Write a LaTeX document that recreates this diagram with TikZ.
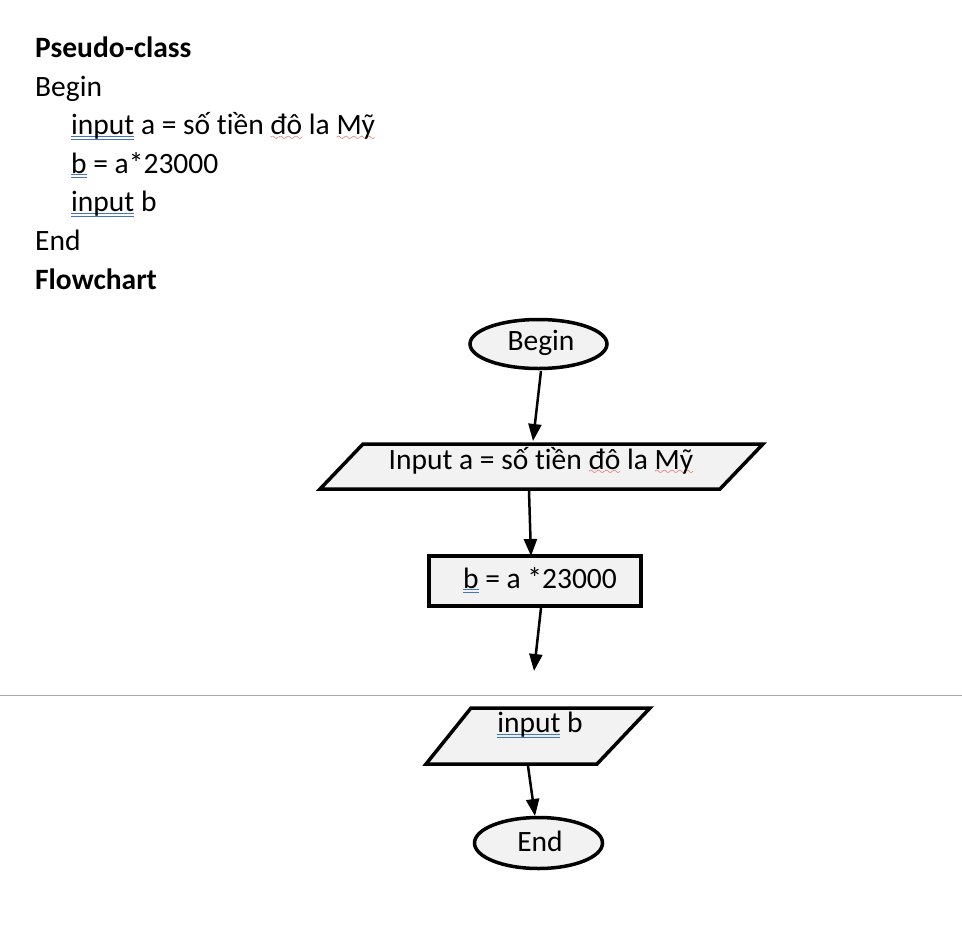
\documentclass[tikz,border=0pt]{standalone}
\usepackage{fontspec}
\setmainfont{Carlito}[Ligatures=NoCommon]
\usetikzlibrary{arrows.meta,shapes.geometric}
\definecolor{ublue}{HTML}{4472C4}
\definecolor{shapefill}{HTML}{F2F2F2}
\definecolor{pagegray}{HTML}{A6A6A6}
\definecolor{wavered}{HTML}{E02020}
\font\mywavefont=lasy10 at 11pt
\newsavebox\myulbox
\newcommand\dblu[1]{\sbox\myulbox{#1}\rlap{\textcolor{ublue}{\rule[-1.9pt]{\wd\myulbox}{0.9pt}}}\rlap{\textcolor{ublue}{\rule[-5.0pt]{\wd\myulbox}{0.9pt}}}\usebox\myulbox}
\newcommand\wavu[1]{\sbox\myulbox{#1}\rlap{\textcolor{wavered}{\lower5.5pt\hbox to \wd\myulbox{\xleaders\hbox{\mywavefont\char58}\hfill}}}\usebox\myulbox}
\begin{document}
\begin{tikzpicture}[x=1pt,y=-1pt,
  txt/.style={inner sep=0pt,font=\fontsize{29.5}{35}\selectfont},
  shapeline/.style={draw=black,line width=3.5pt,fill=shapefill,line join=miter},
  conn/.style={line width=2.5pt,-{Triangle[length=17pt,width=13pt]}}]
\useasboundingbox (0,0) rectangle (962,948);
% pseudo code
\node[txt,anchor=base west,font=\fontsize{29.5}{35}\selectfont\bfseries] (t1) at (35,57.5) {Pseudo-class};
\node[txt,anchor=base west] (t2) at (35,96.5) {Begin};
\node[txt,anchor=base west] (t3) at (71,134.5) {\dblu{input} a = số tiền \wavu{đô} la \wavu{Mỹ}};
\node[txt,anchor=base west] (t4) at (71,173) {\dblu{b} = a*23000};
\node[txt,anchor=base west] (t5) at (71,211.5) {\dblu{input} b};
\node[txt,anchor=base west] (t6) at (35,250.5) {End};
\node[txt,anchor=base west,font=\fontsize{29.5}{35}\selectfont\bfseries] (t7) at (35,289) {Flowchart};
% page break line
\draw[pagegray,line width=1pt] (0,695) -- (962,695);
% begin ellipse
\draw[shapeline] (538.5,344) ellipse [x radius=68.5, y radius=24.5];
\node[txt,anchor=base] (begin) at (541,350) {Begin};
% parallelogram 1
\draw[shapeline] (363,444) -- (763,444) -- (720,489) -- (320,489) -- cycle;
\node[txt,anchor=base] (inp1) at (541,469) {Input a = số tiền \wavu{đô} la \wavu{Mỹ}};
% rectangle
\draw[shapeline] (429,556) rectangle (641,606);
\node[txt,anchor=base] (calc) at (540,588) {\dblu{b} = a *23000};
% parallelogram 2
\draw[shapeline] (471,708) -- (650,708) -- (597,764) -- (426,764) -- cycle;
\node[txt,anchor=base] (inp2) at (540,732.5) {\dblu{input} b};
% end ellipse
\draw[shapeline] (538.5,843) ellipse [x radius=64, y radius=25.5];
\node[txt,anchor=base] (endn) at (540,851.5) {End};
% connector coordinates
\coordinate (c1s) at (541,371);
\coordinate (c1e) at (533,441);
\coordinate (c2s) at (529,491);
\coordinate (c2e) at (531,556);
\coordinate (c3s) at (541,608);
\coordinate (c3e) at (534,671);
\coordinate (c4s) at (528,766);
\coordinate (c4e) at (535,816);
\draw[conn] (c1s) -- (c1e);
\draw[conn] (c2s) -- (c2e);
\draw[conn] (c3s) -- (c3e);
\draw[conn] (c4s) -- (c4e);
\end{tikzpicture}
\end{document}
